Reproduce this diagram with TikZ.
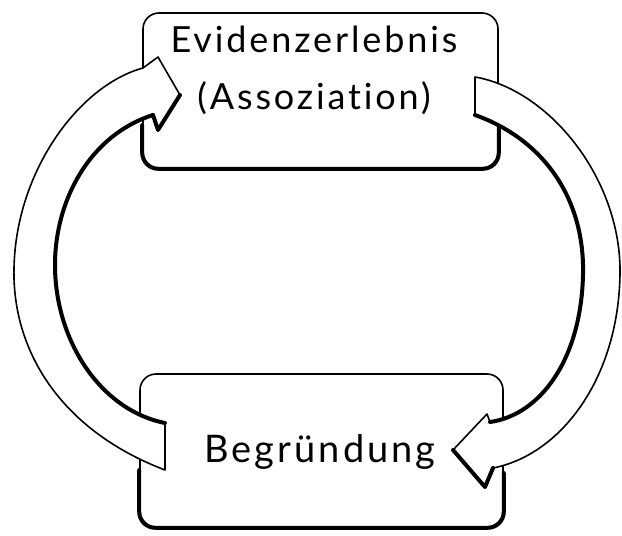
\documentclass[tikz,border=0pt]{standalone}
\usepackage{fontspec}
\setmainfont{Lato}[LetterSpace=8, Ligatures=NoCommon]
\usepackage{tikz}

\tikzset{
  box/.style={draw, fill=white, line width=1.6pt, rounded corners=16pt},
  shadowline/.style={line width=4pt, rounded corners=16pt, line cap=round},
  hollow/.style={draw, fill=white, line width=1.6pt, line join=round},
  inneredge/.style={line width=4pt, line cap=round, line join=round},
  lbl/.style={font=\fontsize{36}{57}\selectfont, align=center, inner sep=0pt}
}

\begin{document}
\begin{tikzpicture}[x=1pt, y=-1pt]
  \useasboundingbox (0,0) rectangle (622,536);
  % boxes
  \node[box, minimum width=355pt, minimum height=155pt] (evid) at (320.5,90.5) {};
  \node[box, minimum width=363pt, minimum height=153pt] (begr) at (321.5,450.5) {};
  % heavy lower edges
  \draw[shadowline] (evid.west |- 0,125) -- (evid.south west) -- (evid.south east) -- (evid.east |- 0,125);
  \draw[shadowline] (begr.west |- 0,470) -- (begr.south west) -- (begr.south east) -- (begr.east |- 0,473);
  % left arrow: Begruendung -> Evidenzerlebnis
  \coordinate (ltail) at (165,423);
  \coordinate (ltip) at (180,95);
  \draw[hollow] (ltail) -- (165,470)
    .. controls (60,430) and (12,350) .. (14,268)
    .. controls (16,170) and (80,85) .. (143,68)
    -- (158,57) -- (ltip) -- (158,130) -- (153,115)
    .. controls (90,135) and (55,200) .. (55,265)
    .. controls (55,340) and (100,410) .. (ltail)
    -- cycle;
  \draw[inneredge] (153,115) .. controls (90,135) and (55,200) .. (55,265)
    .. controls (55,340) and (100,410) .. (ltail);
  \draw[inneredge] (ltip) -- (158,130) -- (153,115);
  % right arrow: Evidenzerlebnis -> Begruendung
  \coordinate (rtail) at (475,77);
  \coordinate (rtip) at (453,450);
  \draw[hollow] (rtail)
    .. controls (550,90) and (622,180) .. (620,275)
    .. controls (618,380) and (560,455) .. (493,468)
    -- (485,487) -- (rtip) -- (487,414) -- (490,422)
    .. controls (540,415) and (581,360) .. (583,275)
    .. controls (585,200) and (545,140) .. (475,115)
    -- cycle;
  \draw[inneredge] (490,422) .. controls (540,415) and (581,360) .. (583,275)
    .. controls (585,200) and (545,140) .. (475,115);
  \draw[inneredge] (rtip) -- (485,487) -- (493,468);
  % labels
  \node[lbl] (evidtext) at (314,70) {Evidenzerlebnis\\(Assoziation)};
  \node[lbl, font=\fontsize{38}{57}\selectfont] (begrtext) at (320,452) {Begründung};
\end{tikzpicture}
\end{document}
